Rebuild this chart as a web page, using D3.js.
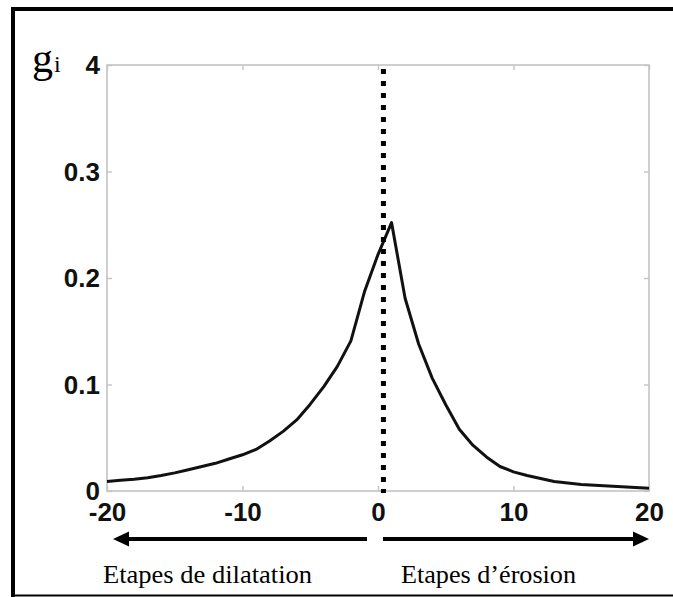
<!DOCTYPE html>
<html>
<head>
<meta charset="utf-8">
<script src="https://cdn.jsdelivr.net/npm/d3@7"></script>
<style>
  html, body { margin: 0; padding: 0; background: #fff; }
  svg { display: block; }
</style>
</head>
<body>
<svg id="chart" width="673" height="597"></svg>
<script>
// Steps (negative = dilation, positive = erosion)
const steps = [-20,-19,-18,-17,-16,-15,-14,-13,-12,-11,-10,-9,-8,-7,-6,-5,-4,-3,-2,-1,0,
               1,2,3,4,5,6,7,8,9,10,11,12,13,14,15,16,17,18,19,20];
// g_i value at each step
const gValues = [0.009,0.010,0.011,0.0125,0.0145,0.017,0.020,0.023,0.026,0.030,0.034,0.039,0.047,0.056,0.0667,0.0815,0.098,0.117,0.141,0.187,0.222,
                 0.252,0.181,0.138,0.106,0.081,0.058,0.043,0.032,0.023,0.018,0.0145,0.0117,0.009,0.0075,0.0061,0.0054,0.0047,0.0040,0.0033,0.0025];
const xTicks = [-20, -10, 0, 10, 20];
const xTickLabels = ["-20", "-10", "0", "10", "20"];
const yTicks = [0, 0.1, 0.2, 0.3, 0.4];
const yTickLabels = ["0", "0.1", "0.2", "0.3", "4"];
const markerStep = 0.4;           // position of the dotted separator
const leftCaption = "Etapes de dilatation";
const rightCaption = "Etapes d\u2019érosion";
const yTitle = "g";
const yTitleSub = "i";

const svg = d3.select("#chart");

const x = d3.scaleLinear().domain([-20, 20]).range([107, 649]);
const y = d3.scaleLinear().domain([0, 0.4]).range([491, 65]);

// outer frame
const frame = svg.append("g").attr("stroke", "#000");
frame.append("line").attr("x1", 13).attr("x2", 13).attr("y1", 7).attr("y2", 597).attr("stroke-width", 4);
frame.append("line").attr("x1", 11).attr("x2", 673).attr("y1", 9).attr("y2", 9).attr("stroke-width", 4);
frame.append("line").attr("x1", 11).attr("x2", 673).attr("y1", 595.5).attr("y2", 595.5).attr("stroke-width", 2);

// plot box
const boxColor = "#c4c4c4";
svg.append("rect")
  .attr("x", x(-20)).attr("y", y(0.4))
  .attr("width", x(20) - x(-20)).attr("height", y(0) - y(0.4))
  .attr("fill", "none").attr("stroke", boxColor).attr("stroke-width", 1.6);

const tickFont = "'Liberation Sans', Arial, Helvetica, sans-serif";

// bottom axis (ticks pointing inward)
const xAxis = svg.append("g")
  .attr("transform", `translate(0,${y(0)})`)
  .call(d3.axisBottom(x).tickValues(xTicks).tickSizeInner(-5).tickSizeOuter(0).tickPadding(12)
    .tickFormat((d, i) => xTickLabels[i]));
// top axis ticks
const xAxisTop = svg.append("g")
  .attr("transform", `translate(0,${y(0.4)})`)
  .call(d3.axisTop(x).tickValues(xTicks).tickSizeInner(-5).tickSizeOuter(0).tickFormat(""));
// left axis
const yAxis = svg.append("g")
  .attr("transform", `translate(${x(-20)},0)`)
  .call(d3.axisLeft(y).tickValues(yTicks).tickSizeInner(-5).tickSizeOuter(0).tickPadding(7)
    .tickFormat((d, i) => yTickLabels[i]));
// right axis ticks
const yAxisRight = svg.append("g")
  .attr("transform", `translate(${x(20)},0)`)
  .call(d3.axisRight(y).tickValues(yTicks).tickSizeInner(-5).tickSizeOuter(0).tickFormat(""));

[xAxis, xAxisTop, yAxis, yAxisRight].forEach(a => {
  a.select(".domain").remove();
  a.selectAll(".tick line").attr("stroke", boxColor).attr("stroke-width", 1.4);
  a.selectAll(".tick text")
    .attr("fill", "#111")
    .attr("font-family", tickFont)
    .attr("font-weight", "bold")
    .attr("font-size", 26);
});
yAxis.selectAll(".tick text").attr("dy", "0.34em");

// curve
const line = d3.line()
  .x((d, i) => x(steps[i]))
  .y(d => y(d));
svg.append("path")
  .datum(gValues)
  .attr("d", line)
  .attr("fill", "none")
  .attr("stroke", "#111")
  .attr("stroke-width", 3)
  .attr("stroke-linejoin", "round");

// dotted separator between dilation and erosion
svg.append("line")
  .attr("x1", x(markerStep)).attr("x2", x(markerStep))
  .attr("y1", y(0.4) + 4).attr("y2", y(0) + 2)
  .attr("stroke", "#000")
  .attr("stroke-width", 5)
  .attr("stroke-dasharray", "5,7");

// direction arrows
const arrowY = 539;
function arrow(fromX, toX) {
  const dir = Math.sign(toX - fromX);
  const headLen = 16, headHalf = 7.5;
  const g = svg.append("g");
  g.append("line")
    .attr("x1", fromX).attr("x2", toX - dir * headLen + dir)
    .attr("y1", arrowY).attr("y2", arrowY)
    .attr("stroke", "#000").attr("stroke-width", 4);
  g.append("path")
    .attr("d", `M${toX},${arrowY} L${toX - dir * headLen},${arrowY - headHalf} L${toX - dir * headLen},${arrowY + headHalf} Z`)
    .attr("fill", "#000");
}
arrow(367, 113);
arrow(383, 649);

// captions
const serif = "'Liberation Serif', 'Times New Roman', Times, serif";
svg.append("text")
  .attr("x", 103).attr("y", 583)
  .attr("font-family", serif).attr("font-size", 25)
  .attr("textLength", 209).attr("lengthAdjust", "spacingAndGlyphs")
  .attr("fill", "#000")
  .text(leftCaption);
svg.append("text")
  .attr("x", 401).attr("y", 583)
  .attr("font-family", serif).attr("font-size", 25)
  .attr("textLength", 175).attr("lengthAdjust", "spacingAndGlyphs")
  .attr("fill", "#000")
  .text(rightCaption);

// y-axis title g_i
const title = svg.append("text")
  .attr("x", 32).attr("y", 72)
  .attr("font-family", serif)
  .attr("fill", "#000");
title.append("tspan").attr("font-size", 42).text(yTitle);
title.append("tspan").attr("font-size", 24).attr("dx", 1).text(yTitleSub);
</script>
</body>
</html>
